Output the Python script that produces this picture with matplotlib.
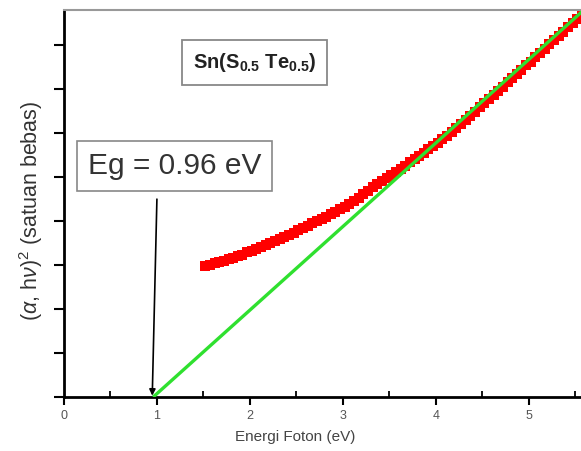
import matplotlib
matplotlib.use("Agg")
import matplotlib.pyplot as plt
from matplotlib.ticker import MultipleLocator, NullFormatter

plt.rcParams['font.family'] = ['Liberation Sans', 'DejaVu Sans']
plt.rcParams['mathtext.fontset'] = 'custom'
plt.rcParams['mathtext.rm'] = 'Liberation Sans'
plt.rcParams['mathtext.bf'] = 'Liberation Sans:bold'
plt.rcParams['mathtext.it'] = 'Liberation Sans:italic'

# ---- data ----
energy = [1.52, 1.57, 1.62, 1.67, 1.72, 1.77, 1.82, 1.87, 1.92, 1.97,
          2.02, 2.07, 2.12, 2.17, 2.22, 2.27, 2.32, 2.37, 2.42, 2.47,
          2.52, 2.57, 2.62, 2.67, 2.72, 2.77, 2.82, 2.87, 2.92, 2.97,
          3.02, 3.07, 3.12, 3.17, 3.22, 3.27, 3.32, 3.37, 3.42, 3.47,
          3.52, 3.57, 3.62, 3.67, 3.72, 3.77, 3.82, 3.87, 3.92, 3.97,
          4.02, 4.07, 4.12, 4.17, 4.22, 4.27, 4.32, 4.37, 4.42, 4.47,
          4.52, 4.57, 4.62, 4.67, 4.72, 4.77, 4.82, 4.87, 4.92, 4.97,
          5.02, 5.07, 5.12, 5.17, 5.22, 5.27, 5.32, 5.37, 5.42, 5.47,
          5.52, 5.57]
absorb = [2.98, 3.01, 3.04, 3.07, 3.10, 3.14, 3.17, 3.21, 3.24, 3.29,
          3.33, 3.37, 3.41, 3.46, 3.50, 3.55, 3.60, 3.64, 3.69, 3.74,
          3.79, 3.84, 3.89, 3.95, 4.00, 4.05, 4.10, 4.16, 4.21, 4.27,
          4.33, 4.39, 4.46, 4.53, 4.61, 4.69, 4.77, 4.84, 4.91, 4.98,
          5.05, 5.12, 5.19, 5.26, 5.34, 5.41, 5.48, 5.55, 5.63, 5.70,
          5.78, 5.86, 5.94, 6.03, 6.12, 6.21, 6.30, 6.40, 6.49, 6.59,
          6.68, 6.78, 6.87, 6.97, 7.06, 7.16, 7.25, 7.35, 7.44, 7.54,
          7.63, 7.73, 7.83, 7.92, 8.02, 8.12, 8.22, 8.31, 8.41, 8.51,
          8.60, 8.70]

fit_x = [0.96, 5.60]
fit_y = [0.0, 8.82]

eg_label = "Eg = 0.96 eV"
sample_label = r"$\mathbf{Sn(S_{0.5}\ Te_{0.5})}$"
x_ticks = [0, 1, 2, 3, 4, 5]
x_ticklabels = ["0", "1", "2", "3", "4", "5"]
y_ticks = [0, 1, 2, 3, 4, 5, 6, 7, 8]

fig = plt.figure(figsize=(5.81, 4.51), dpi=100)
ax = fig.add_axes([0.110, 0.1197, 0.890, 0.858])

ax.plot(energy, absorb, linestyle='none', marker='s', markersize=6.5,
        color='#ff0000', markeredgewidth=0, zorder=2)
ax.plot(fit_x, fit_y, color='#2fe02f', lw=2.4, zorder=3, solid_capstyle='butt')

ax.set_xlim(0, 5.56)
ax.set_ylim(0, 8.8)

ax.set_xticks(x_ticks)
ax.set_xticklabels(x_ticklabels)
ax.xaxis.set_minor_locator(MultipleLocator(0.5))
ax.set_yticks(y_ticks)
ax.yaxis.set_major_formatter(NullFormatter())

ax.tick_params(axis='x', which='major', direction='out', length=6, width=1.5,
               labelsize=9, labelcolor='#555555', pad=3)
ax.tick_params(axis='x', which='minor', direction='in', length=4, width=1.3)
ax.tick_params(axis='y', which='major', direction='out', length=7, width=1.5)

for s in ['left', 'bottom']:
    ax.spines[s].set_linewidth(2.0)
    ax.spines[s].set_color('black')
ax.spines['right'].set_visible(False)
ax.spines['top'].set_color('#999999')
ax.spines['top'].set_linewidth(1.5)

ax.set_xlabel("Energi Foton (eV)", fontsize=11, color='#444444', labelpad=4)
ax.xaxis.set_label_coords(0.447, -0.085)
ax.set_ylabel(r"($\alpha$, h$\nu$)$^2$ (satuan bebas)", fontsize=15.5, color='#333333')
ax.yaxis.set_label_coords(-0.036, 0.48)

ax.text(2.05, 7.61, sample_label, fontsize=14.5, color='#222222', ha='center', va='center',
        bbox=dict(boxstyle='square,pad=0.55', facecolor='white', edgecolor='#888888', linewidth=1.3))

ax.text(1.19, 5.25, eg_label, fontsize=21.5, color='#333333', ha='center', va='center',
        bbox=dict(boxstyle='square,pad=0.36', facecolor='white', edgecolor='#888888', linewidth=1.2))

ax.annotate("", xy=(0.95, 0.03), xytext=(1.0, 4.5),
            arrowprops=dict(arrowstyle='-|>', color='black', lw=1.2,
                            mutation_scale=9, shrinkA=0, shrinkB=0), zorder=4)

fig.savefig("out.png", dpi=100)
